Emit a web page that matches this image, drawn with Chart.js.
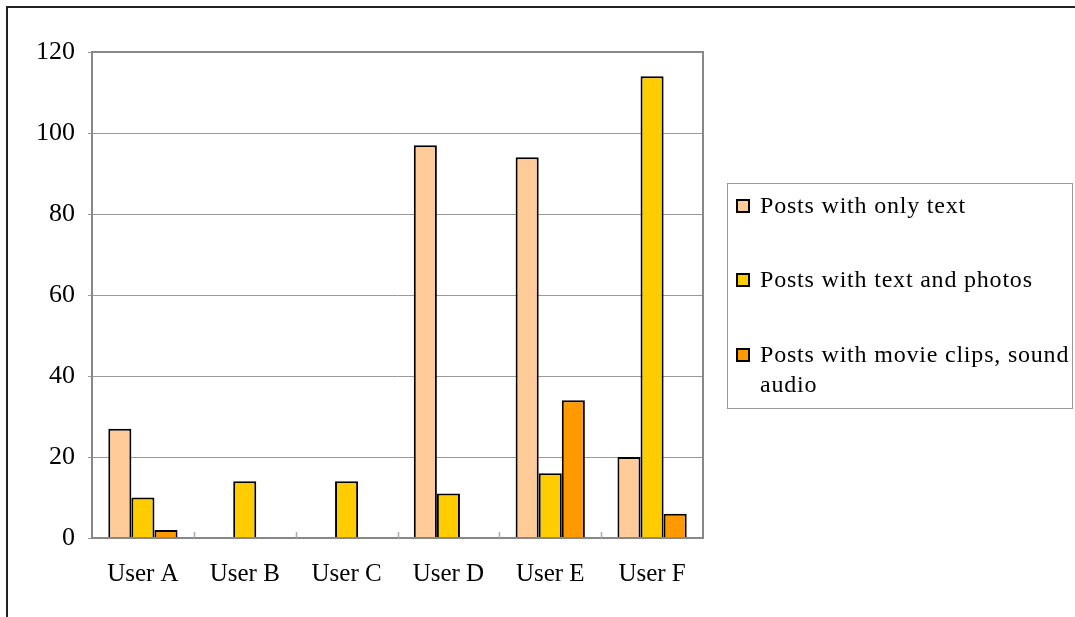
<!DOCTYPE html>
<html>
<head>
<meta charset="utf-8">
<script src="https://cdn.jsdelivr.net/npm/chart.js@4.4.1/dist/chart.umd.min.js"></script>
<style>
  html, body { margin: 0; padding: 0; background: #fff; }
  #wrap { position: relative; width: 1075px; height: 617px; }
</style>
</head>
<body>
<div id="wrap"><canvas id="c" width="1075" height="617"></canvas></div>
<script>
// Categories and series
const users = ['User A', 'User B', 'User C', 'User D', 'User E', 'User F'];
const onlyText = [27, 0, 0, 97, 94, 20];
const textPhotos = [10, 14, 14, 11, 16, 114];
const movieAudio = [2, 0, 0, 0, 34, 6];
const seriesNames = ['Posts with only text', 'Posts with text and photos', 'Posts with movie clips, sound audio'];
const yTicks = [0, 20, 40, 60, 80, 100, 120];

const colors = ['#FFCC99', '#FFCC00', '#FF9900'];
const serif = '"Liberation Serif", "Times New Roman", serif';

// Hide borders on zero-height bars
const bw = ctx => (ctx.raw === 0 ? 0 : 2);

// Outer frame, plot frame, inner category ticks and the boxed legend
const decor = {
  id: 'decor',
  beforeDraw(chart) {
    const c = chart.ctx;
    c.save();
    c.fillStyle = '#fff';
    c.fillRect(0, 0, chart.width, chart.height);
    c.strokeStyle = '#222';
    c.lineWidth = 2;
    c.beginPath();
    c.moveTo(7, chart.height);
    c.lineTo(7, 7);
    c.lineTo(chart.width, 7);
    c.stroke();
    c.restore();
  },
  afterDatasetsDraw(chart) {
    const c = chart.ctx;
    const a = chart.chartArea;
    const xs = chart.scales.x;
    c.save();
    c.strokeStyle = '#888';
    c.lineWidth = 2;
    c.strokeRect(a.left, a.top, a.right - a.left, a.bottom - a.top);
    c.lineWidth = 1.5;
    c.strokeStyle = '#aaa';
    for (let i = 1; i < users.length; i++) {
      const x = Math.round((xs.getPixelForTick(i - 1) + xs.getPixelForTick(i)) / 2) + 0.5;
      c.beginPath();
      c.moveTo(x, a.bottom);
      c.lineTo(x, a.bottom - 6);
      c.stroke();
    }
    c.restore();
  },
  afterDraw(chart) {
    const c = chart.ctx;
    const box = { x: 727.5, y: 183.5, w: 345, h: 225 };
    c.save();
    c.strokeStyle = '#999';
    c.lineWidth = 1;
    c.strokeRect(box.x, box.y, box.w, box.h);
    c.font = '24px ' + serif;
    c.letterSpacing = '0.8px';
    c.fillStyle = '#000';
    c.textBaseline = 'alphabetic';
    const textX = 760;
    const maxW = box.x + box.w - textX + 4;
    const baselines = [213, 287, 362];
    chart.data.datasets.forEach((ds, i) => {
      // wrap words to the box width
      const words = ds.label.split(' ');
      const lines = [];
      let cur = '';
      words.forEach(w => {
        const t = cur ? cur + ' ' + w : w;
        if (c.measureText(t).width > maxW && cur) { lines.push(cur); cur = w; }
        else cur = t;
      });
      if (cur) lines.push(cur);
      const b = baselines[i];
      c.fillStyle = ds.backgroundColor;
      c.fillRect(737, b - 13, 12, 12);
      c.strokeStyle = '#000';
      c.lineWidth = 2;
      c.strokeRect(737, b - 13, 12, 12);
      c.fillStyle = '#000';
      lines.forEach((ln, k) => c.fillText(ln, textX, b + k * 30));
    });
    c.restore();
  }
};

new Chart(document.getElementById('c'), {
  type: 'bar',
  data: {
    labels: users,
    datasets: [
      { label: seriesNames[0], data: onlyText, backgroundColor: colors[0] },
      { label: seriesNames[1], data: textPhotos, backgroundColor: colors[1] },
      { label: seriesNames[2], data: movieAudio, backgroundColor: colors[2] }
    ].map(d => Object.assign(d, {
      borderColor: '#000',
      borderWidth: bw,
      barPercentage: 1.0,
      categoryPercentage: 0.68
    }))
  },
  options: {
    responsive: false,
    animation: false,
    devicePixelRatio: 1,
    layout: { padding: { left: 0, top: 52, right: 372, bottom: 0 } },
    plugins: { legend: { display: false }, tooltip: { enabled: false } },
    scales: {
      x: {
        grid: { display: false },
        border: { display: false },
        ticks: { color: '#000', font: { family: serif, size: 25 }, padding: 13, maxRotation: 0 },
        afterFit(s) { s.height = 79; }
      },
      y: {
        min: 0,
        max: 120,
        afterBuildTicks(s) { s.ticks = yTicks.map(v => ({ value: v })); },
        grid: { color: '#999', lineWidth: 1, tickLength: 4, drawTicks: true },
        border: { display: false },
        ticks: { color: '#000', font: { family: serif, size: 26 }, padding: 13 },
        afterFit(s) { s.width = 92; }
      }
    }
  },
  plugins: [decor]
});
</script>
</body>
</html>
